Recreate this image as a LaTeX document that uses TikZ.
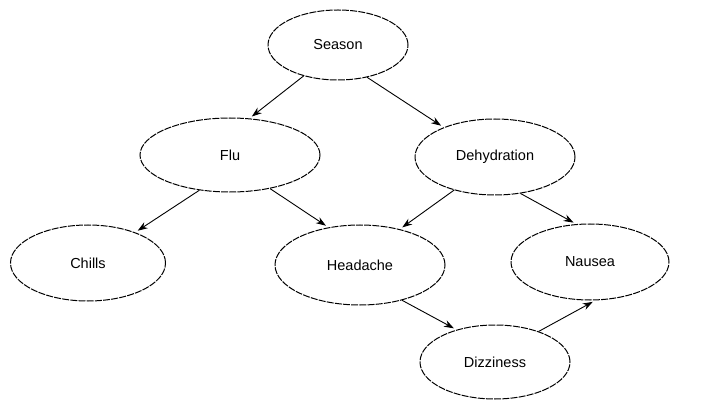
\documentclass[tikz,border=0pt]{standalone}
\usepackage{fontspec}
\setmainfont{Liberation Sans}
\usetikzlibrary{shapes.geometric,arrows.meta}
\begin{document}
\begin{tikzpicture}[x=1pt,y=-1pt,
  bn/.style={ellipse,draw=black,line width=1pt,dash pattern=on 7pt off 1.2pt,inner sep=0pt,font=\fontsize{14.5}{16}\selectfont},
  arr/.style={-{Stealth[length=10pt,width=7pt]},line width=0.9pt,shorten >=3pt}]
\useasboundingbox (0,0) rectangle (709,403);
\node[bn,minimum width=140pt,minimum height=70pt] (season) at (338,45) {Season};
\node[bn,minimum width=180pt,minimum height=74pt] (flu) at (230,155) {Flu};
\node[bn,minimum width=160pt,minimum height=76pt] (dehy) at (495,157) {Dehydration};
\node[bn,minimum width=155pt,minimum height=76pt] (chills) at (88,263) {Chills};
\node[bn,minimum width=170pt,minimum height=80pt] (head) at (360,265) {Headache};
\node[bn,minimum width=158pt,minimum height=76pt] (nausea) at (590,262) {Nausea};
\node[bn,minimum width=150pt,minimum height=74pt] (dizzy) at (495,362) {Dizziness};
\draw[arr] (season.222) -- (flu.62);
\draw[arr] (season.312) -- (dehy.150);
\draw[arr] (flu.229) -- (chills.33);
\draw[arr] (flu.320) -- (head.130);
\draw[arr] (dehy.219) -- (head.42);
\draw[arr] (dehy.305) -- (nausea.110);
\draw[arr] (head.320) -- (dizzy.140);
\draw[arr] (dizzy.35) -- (nausea.278);
\end{tikzpicture}
\end{document}
